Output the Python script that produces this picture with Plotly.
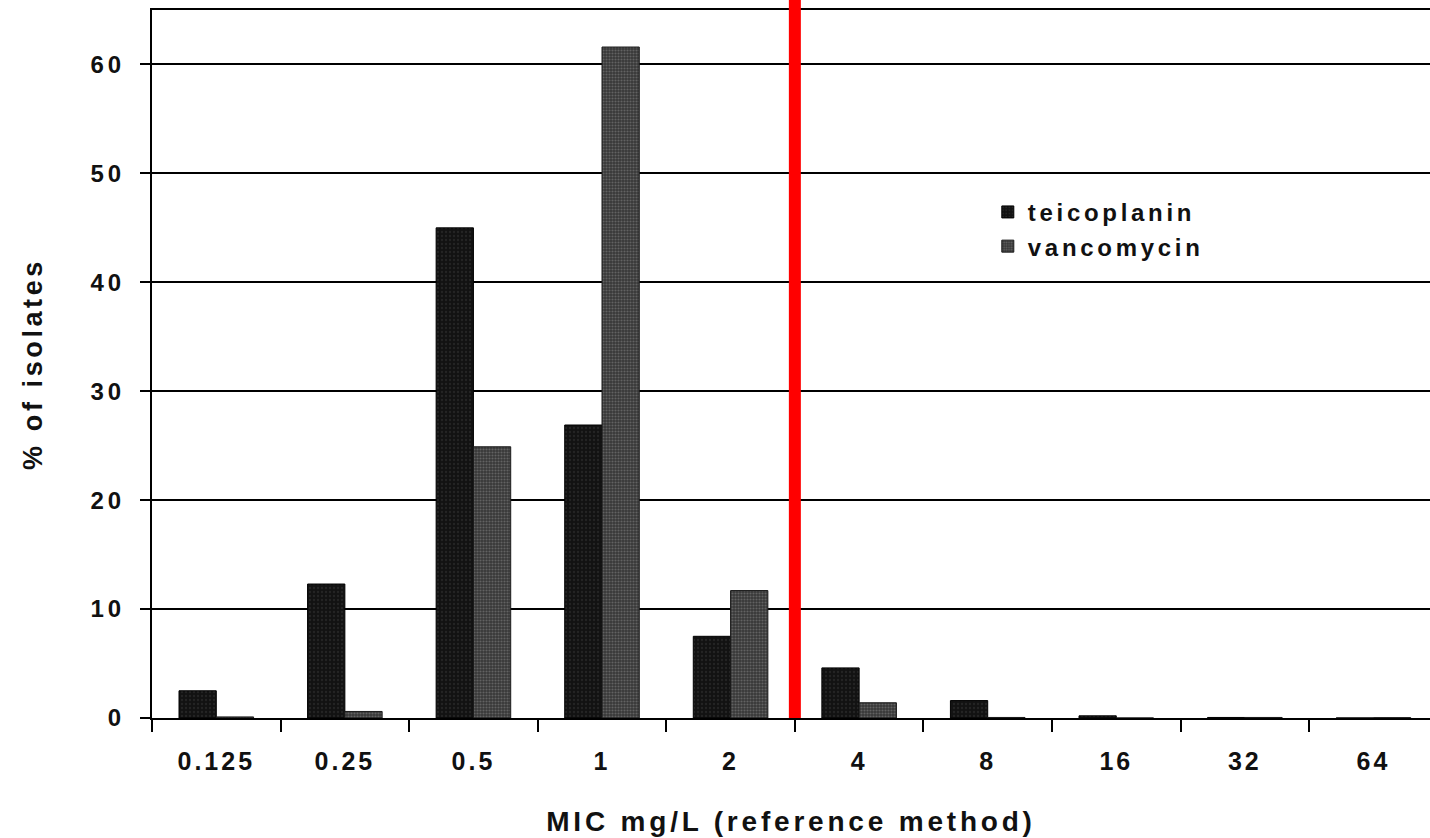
import plotly.graph_objects as go

categories = ["0.125", "0.25", "0.5", "1", "2", "4", "8", "16", "32", "64"]
teicoplanin = [2.5, 12.3, 45.0, 26.9, 7.5, 4.6, 1.6, 0.2, 0.05, 0.0]
vancomycin = [0.1, 0.6, 24.9, 61.6, 11.7, 1.4, 0.05, 0.0, 0.05, 0.03]
y_ticks = [0, 10, 20, 30, 40, 50, 60]
breakpoint_index = 4.5  # boundary between "2" and "4"

FONT = "Liberation Sans"


def spaced(text, ls):
    return f'<span style="letter-spacing:{ls}px">{text}</span>'


fig = go.Figure()
fig.add_trace(go.Bar(
    x=categories, y=teicoplanin, name=spaced("teicoplanin", 3.7),
    marker=dict(color="#151515", line=dict(color="#000000", width=1),
                pattern=dict(shape=".", fgcolor="#363636", bgcolor="#121212", size=4, solidity=0.25)),
))
fig.add_trace(go.Bar(
    x=categories, y=vancomycin, name=spaced("vancomycin", 3.7),
    marker=dict(color="#4a4a4a", line=dict(color="#1a1a1a", width=1),
                pattern=dict(shape=".", fgcolor="#8c8c8c", bgcolor="#383838", size=3, solidity=0.4)),
))

fig.add_shape(type="line", xref="x", yref="paper", x0=breakpoint_index, x1=breakpoint_index,
              y0=0, y1=1.05, line=dict(color="#ff0000", width=12), layer="above")

fig.update_layout(
    width=1430, height=838,
    margin=dict(l=152, r=0, t=10, b=120),
    paper_bgcolor="white", plot_bgcolor="white",
    barmode="group", bargap=0.42, bargroupgap=0.0,
    font=dict(family=FONT, size=24, color="#111111", weight="bold"),
    showlegend=True,
    legend=dict(x=0.654, y=0.746, xanchor="left", yanchor="top",
                bgcolor="rgba(0,0,0,0)", font=dict(family=FONT, size=24, weight="bold"),
                itemwidth=30),
)
fig.update_xaxes(
    type="category", range=[-0.5, 9.44], automargin=False,
    tickmode="array", tickvals=categories, ticktext=[spaced(c, 3) for c in categories],
    tickfont=dict(size=25),
    showline=True, linecolor="#000000", linewidth=2, mirror=True,
    ticks="outside", tickson="boundaries", ticklen=12, tickwidth=2, tickcolor="#000000",
    ticklabelstandoff=20,
    showgrid=False,
    title=dict(text=spaced("MIC mg/L (reference method)", 3.8),
               font=dict(family=FONT, size=28, weight="bold"), standoff=37),
)
fig.update_yaxes(
    range=[0, 65], automargin=False,
    tickmode="array", tickvals=y_ticks, ticktext=[spaced(str(v), 4) for v in y_ticks],
    tickfont=dict(size=24),
    showline=True, linecolor="#000000", linewidth=2,
    ticks="outside", ticklen=10, tickwidth=2, tickcolor="#000000",
    ticklabelstandoff=10,
    showgrid=True, gridcolor="#000000", gridwidth=1.5,
    zeroline=False,
    title=dict(text=spaced("% of isolates", 3.6),
               font=dict(family=FONT, size=27, weight="bold"), standoff=40),
)

fig.write_html("out.html", config={"displayModeBar": False},
               post_script="document.body.style.margin='0';document.body.style.overflow='hidden';")
